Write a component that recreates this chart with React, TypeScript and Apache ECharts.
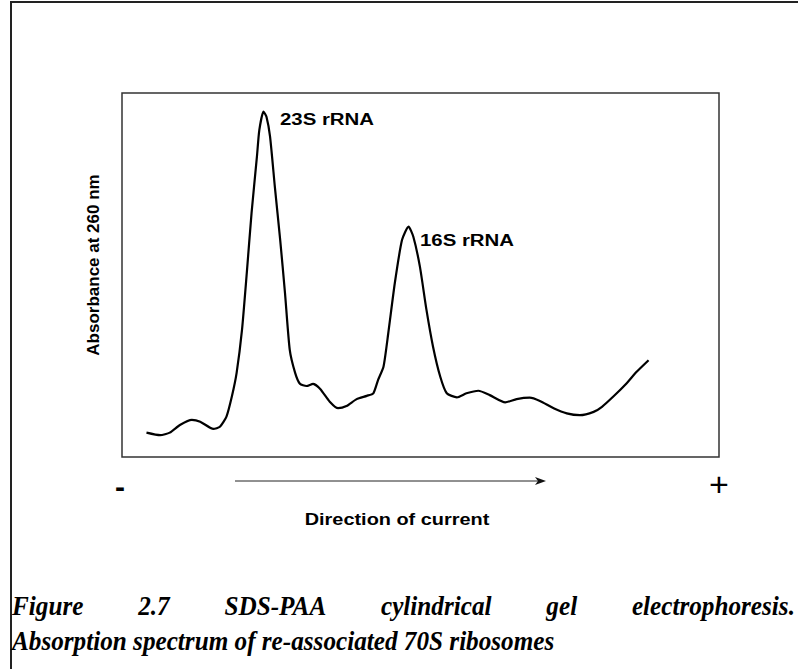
import React, { useEffect, useRef } from "react";
import * as echarts from "echarts";

// Position along the gel (0-100, arbitrary units) and absorbance at 260 nm (relative)
const position: number[] = [
  4.1, 6.4, 8.0, 9.7, 11.7, 13.1, 15.3, 16.4, 17.5, 18.4, 19.2, 20.1, 20.9, 21.7, 22.6, 23.0, 23.7,
  24.2, 24.8, 25.6, 26.5, 27.3, 28.1, 29.0, 29.8, 30.9, 32.0, 33.2, 34.8, 36.2, 37.6, 39.3, 41.0,
  42.1, 42.9, 43.8, 44.6, 45.7, 46.9, 48.0, 48.8, 49.9, 51.0, 52.1, 53.3, 54.4, 56.1, 57.7, 59.7,
  61.6, 64.2, 66.1, 68.3, 70.0, 72.3, 74.5, 76.7, 79.0, 80.4, 82.3, 84.5, 86.2, 88.2,
];
const absorbance: number[] = [
  0.067, 0.06, 0.067, 0.088, 0.102, 0.097, 0.077, 0.083, 0.111, 0.166, 0.231, 0.349, 0.505, 0.67,
  0.825, 0.898, 0.949, 0.935, 0.88, 0.743, 0.596, 0.451, 0.294, 0.231, 0.201, 0.195, 0.201, 0.187,
  0.152, 0.134, 0.14, 0.159, 0.168, 0.175, 0.212, 0.248, 0.34, 0.478, 0.596, 0.633, 0.605, 0.523,
  0.404, 0.303, 0.221, 0.175, 0.164, 0.175, 0.182, 0.17, 0.15, 0.159, 0.163, 0.154, 0.134, 0.12,
  0.115, 0.124, 0.138, 0.166, 0.202, 0.234, 0.266,
];
const peakLabels: string[] = ["23S rRNA", "16S rRNA"];
const yAxisTitle = "Absorbance at 260 nm";
const xAxisTitle = "Direction of current";
const captionLine1: string[] = ["Figure", "2.7", "SDS-PAA", "cylindrical", "gel", "electrophoresis."];
const captionLine2 = "Absorption spectrum of re-associated 70S ribosomes";

const CAPTION_FONT = "italic bold 28px 'Liberation Serif'";
const CAPTION_SX = 0.9;
const LABEL_FONT = "bold 17px 'Liberation Sans'";

function measure(text: string, font: string): number {
  const c = document.createElement("canvas").getContext("2d");
  if (!c) return text.length * 10;
  c.font = font;
  return c.measureText(text).width;
}

export default function App() {
  const ref = useRef<HTMLDivElement>(null);
  useEffect(() => {
    if (!ref.current) return;
    const chart = echarts.init(ref.current, null, { renderer: "svg" });

    // justified first caption line
    const left = 12;
    const right = 795;
    const widths = captionLine1.map((w) => measure(w, CAPTION_FONT) * CAPTION_SX);
    const total = widths.reduce((a, b) => a + b, 0);
    const gap = (right - left - total) / (captionLine1.length - 1);
    let cx = left;
    const line1Els = captionLine1.map((w, i) => {
      const el = {
        type: "text",
        x: cx,
        y: 606,
        scaleX: CAPTION_SX,
        style: {
          text: w,
          font: CAPTION_FONT,
          fill: "#000",
          textVerticalAlign: "middle",
        },
      };
      cx += widths[i] + gap;
      return el;
    });

    chart.setOption({
      animation: false,
      backgroundColor: "#fff",
      grid: {
        left: 122,
        top: 93,
        width: 597,
        height: 364,
        show: true,
        borderColor: "#333",
        borderWidth: 1.5,
        backgroundColor: "transparent",
      },
      xAxis: {
        type: "value",
        min: 0,
        max: 100,
        show: false,
      },
      yAxis: {
        type: "value",
        min: 0,
        max: 1,
        show: false,
      },
      series: [
        {
          type: "line",
          data: position.map((p, i) => [p, absorbance[i]]),
          showSymbol: false,
          smooth: 0.2,
          lineStyle: { color: "#000", width: 2.2 },
        },
      ],
      graphic: [
        // outer frame (top & left)
        { type: "line", shape: { x1: 10, y1: 2, x2: 798, y2: 2 }, style: { stroke: "#222", lineWidth: 2 } },
        { type: "line", shape: { x1: 11, y1: 2, x2: 11, y2: 669 }, style: { stroke: "#222", lineWidth: 2 } },
        {
          type: "text",
          x: 280,
          y: 119,
          scaleX: 1.2,
          style: { text: peakLabels[0], font: LABEL_FONT, fill: "#000", textVerticalAlign: "middle" },
        },
        {
          type: "text",
          x: 420,
          y: 240,
          scaleX: 1.2,
          style: { text: peakLabels[1], font: LABEL_FONT, fill: "#000", textVerticalAlign: "middle" },
        },
        {
          type: "text",
          x: 93,
          y: 265,
          rotation: Math.PI / 2,
          style: {
            text: yAxisTitle,
            font: LABEL_FONT,
            fill: "#000",
            textAlign: "center",
            textVerticalAlign: "middle",
          },
        },
        // direction arrow
        { type: "line", shape: { x1: 235, y1: 481, x2: 540, y2: 481 }, style: { stroke: "#222", lineWidth: 1 } },
        {
          type: "polygon",
          shape: { points: [[546, 481], [535, 477], [538, 481], [535, 485]] },
          style: { fill: "#111" },
        },
        {
          type: "text",
          x: 120,
          y: 486,
          style: { text: "-", font: "bold 30px 'Liberation Sans'", fill: "#000", textAlign: "center", textVerticalAlign: "middle" },
        },
        {
          type: "text",
          x: 719,
          y: 484,
          style: { text: "+", font: "34px 'Liberation Sans'", fill: "#000", textAlign: "center", textVerticalAlign: "middle" },
        },
        {
          type: "text",
          x: 397,
          y: 519,
          scaleX: 1.17,
          style: {
            text: xAxisTitle,
            font: LABEL_FONT,
            fill: "#000",
            textAlign: "center",
            textVerticalAlign: "middle",
          },
        },
        ...line1Els,
        {
          type: "text",
          x: left,
          y: 641,
          scaleX: CAPTION_SX,
          style: { text: captionLine2, font: CAPTION_FONT, fill: "#000", textVerticalAlign: "middle" },
        },
      ],
    });
    return () => chart.dispose();
  }, []);
  return (
    <div
      ref={ref}
      style={{ position: "absolute", left: 0, top: 0, width: 798, height: 669, background: "#fff" }}
    />
  );
}
